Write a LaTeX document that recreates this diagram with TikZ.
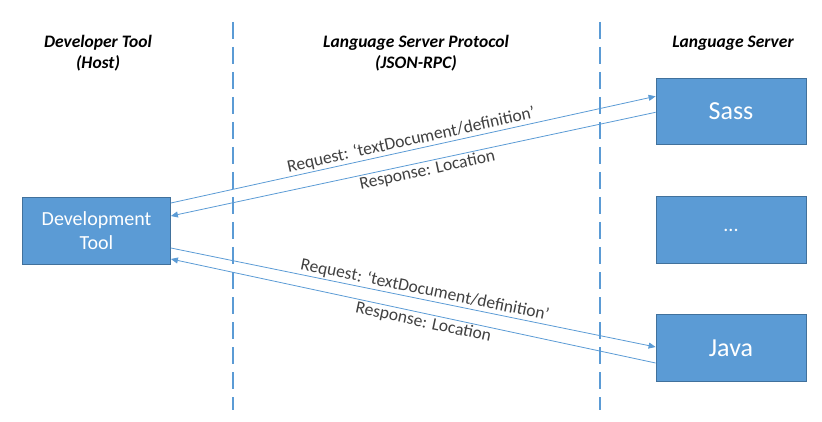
\documentclass[tikz,border=0pt]{standalone}
\usepackage{fontspec}
\setmainfont{Carlito}
\usetikzlibrary{arrows.meta}
\definecolor{boxblue}{HTML}{5B9BD5}
\definecolor{boxedge}{HTML}{41719C}
\definecolor{labelgray}{HTML}{404040}

\begin{document}
\begin{tikzpicture}[x=1pt,y=-1pt]
		% Define styles for boxes, messages and labels
		\tikzset{
			box/.style={draw=boxedge, line width=0.8pt, fill=boxblue, text=white, minimum width=148pt, minimum height=67pt, align=center, font=\fontsize{20}{24}\selectfont},
			msg/.style={draw=boxblue, line width=0.8pt, -{Triangle[length=7pt,width=6pt]}},
			lbl/.style={sloped, inner sep=1.5pt, text=labelgray, font=\fontsize{17.5}{20}\selectfont},
			head/.style={align=center, font=\fontsize{17.5}{21}\selectfont\bfseries\itshape},
			lane/.style={draw=boxblue, line width=2pt, dash pattern=on 17pt off 8pt}
		}
		\useasboundingbox (0,0) rectangle (822,422);
		
		% Column headings
		\node[head] (hhost) at (98,53) {Developer Tool\\(Host)};
		\node[head] (hlsp) at (416,53) {Language Server Protocol\\(JSON-RPC)};
		\node[head] (hls) at (733,43) {Language Server};
		
		% Draw the dashed lane separators
		\draw[lane] (233,22) -- (233,410);
		\draw[lane] (600,22) -- (600,410);
		
		% Draw the boxes
		\node[box] (dev) at (96.5,230.5) {Development\\Tool};
		\node[box, minimum width=150pt, minimum height=66pt, font=\fontsize{26}{30}\selectfont] (sass) at (731,111.3) {Sass};
		\node[box, minimum width=150pt] (more) at (731,230) {...};
		\node[box, minimum width=150pt, font=\fontsize{26}{30}\selectfont] (java) at (731,348) {Java};
		
		% Messages to and from Sass
		\draw[msg] ([yshift=27.5pt]dev.east) -- ([yshift=15pt]sass.west)
			node[lbl, pos=0.5, above] {Request: ‘textDocument/definition’};
		\draw[msg] ([yshift=-1pt]sass.west) -- ([yshift=14.5pt]dev.east)
			node[lbl, pos=0.475, below] {Response: Location};
		
		% Messages to and from Java
		\draw[msg] ([yshift=-17.5pt]dev.east) -- ([yshift=1pt]java.west)
			node[lbl, pos=0.52, above] {Request: ‘textDocument/definition’};
		\draw[msg] ([yshift=-15pt]java.west) -- ([yshift=-28.5pt]dev.east)
			node[lbl, pos=0.475, below] {Response: Location};
	\end{tikzpicture}
\end{document}
